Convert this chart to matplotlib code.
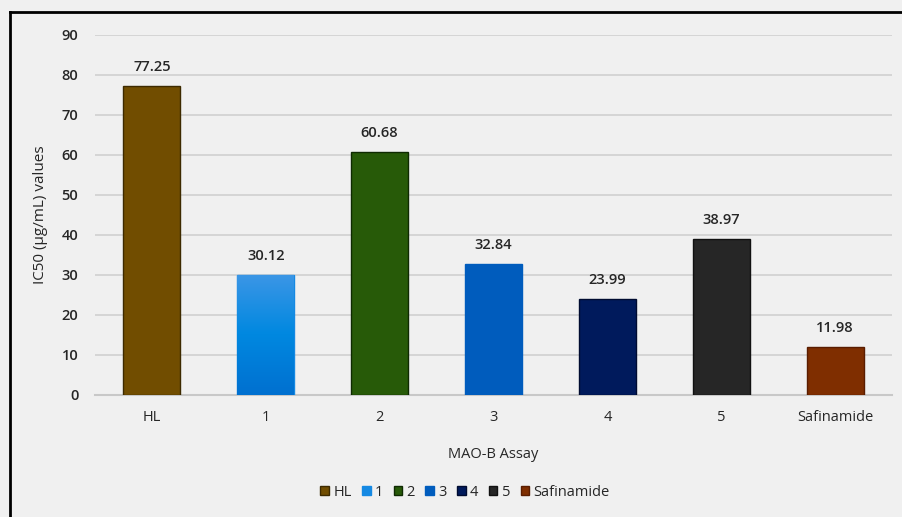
import numpy as np
import matplotlib
matplotlib.use('Agg')
import matplotlib.pyplot as plt
from matplotlib.lines import Line2D
from matplotlib.patches import Patch

categories = ['HL', '1', '2', '3', '4', '5', 'Safinamide']
values = [77.25, 30.12, 60.68, 32.84, 23.99, 38.97, 11.98]
colors = ['#714d00', '#1589e3', '#275a08', '#005cbd', '#001a5c', '#262626', '#7f2e00']
edges = ['#3d2a00', '#1589e3', '#0f2a02', '#005cbd', '#000b30', '#111111', '#5a1d00']
yticks = list(range(0, 100, 10))

plt.rcParams['font.family'] = ['Open Sans', 'DejaVu Sans']
bg = '#f0f0f0'
txt = '#262626'

fig = plt.figure(figsize=(9.03, 5.17), dpi=100, facecolor=bg)
ax = fig.add_axes([95/903, 1-395/517, (892-95)/903, 360/517])
ax.set_facecolor(bg)

x = np.arange(len(categories))
bars = ax.bar(x, values, width=0.5, color=colors, edgecolor=edges, linewidth=1.0, zorder=3)

# gradient fill for bar "1" (lighter at the top)
b = bars[1]
grad = np.linspace(0, 1, 256).reshape(-1, 1)
cmap = matplotlib.colors.LinearSegmentedColormap.from_list('g', ['#0070d0', '#0088e0', '#3c96e6'])
im = ax.imshow(grad, cmap=cmap, aspect='auto', zorder=4,
               extent=[b.get_x(), b.get_x() + b.get_width(), values[1], 0], origin='upper')
im.set_clip_path(b)

for xi, v in zip(x, values):
    ax.text(xi, v + 3, f'{v:.2f}', ha='center', va='bottom', fontsize=10.5,
            fontweight='semibold', color=txt, zorder=5)

ax.set_xlim(-0.5, len(categories) - 0.5)
ax.set_ylim(0, 90)
ax.set_yticks(yticks)
ax.set_xticks(x)
ax.set_xticklabels(categories)
ax.grid(axis='y', color='#d0d0d0', linewidth=1.2, zorder=0)
ax.tick_params(axis='both', length=0, labelsize=10.5, colors=txt)
ax.tick_params(axis='y', pad=12)
ax.tick_params(axis='x', pad=11)
for lab in ax.get_yticklabels():
    lab.set_fontweight('semibold')
for lab in ax.get_xticklabels():
    lab.set_fontweight('medium')
for s in ['top', 'right', 'left']:
    ax.spines[s].set_visible(False)
ax.spines['bottom'].set_color('#c8c8c8')
ax.spines['bottom'].set_linewidth(1.5)

ax.set_ylabel('IC50 (µg/mL) values', fontsize=11, color=txt, labelpad=10)
ax.set_xlabel('MAO-B Assay', fontsize=10.5, color=txt, labelpad=16)

handles = [Patch(facecolor=c, edgecolor=e) for c, e in zip(colors, edges)]
fig.legend(handles, categories, loc='center', bbox_to_anchor=(465/903, 1-492/517), ncol=7,
           frameon=False, fontsize=10.5, handlelength=0.6, handleheight=0.6,
           handletextpad=0.3, columnspacing=0.7, labelcolor=txt)

# outer frame (top and left edges)
fig.add_artist(Line2D([10/903, 1], [1-12/517, 1-12/517], color='black', linewidth=2))
fig.add_artist(Line2D([10/903, 10/903], [0, 1-12/517], color='black', linewidth=2))

fig.savefig('out.png', dpi=100, facecolor=bg)
